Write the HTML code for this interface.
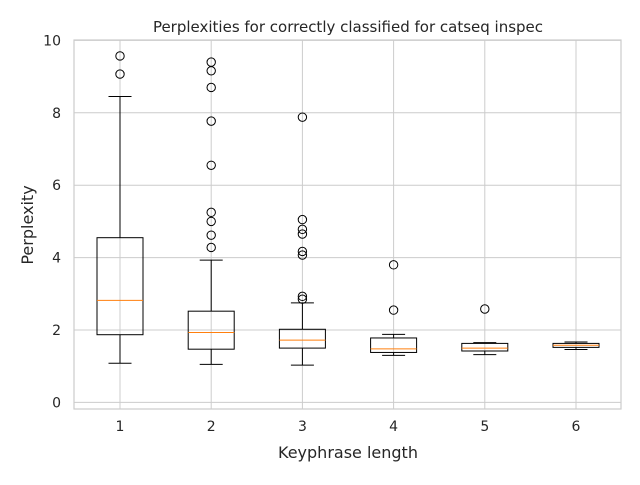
<!DOCTYPE html>
<html><head><meta charset="utf-8"><style>
body{margin:0;background:#fff;}
svg text{font-family:"DejaVu Sans","Liberation Sans",sans-serif;fill:#262626;}
</style></head><body>
<svg id="chart" width="640" height="480" viewBox="0 0 640 480">
<rect x="0" y="0" width="640" height="480" fill="#fff"/>
<text x="348" y="32" font-size="15" text-anchor="middle">Perplexities for correctly classified for catseq inspec</text>
<g id="grid"></g>
<g id="boxes"></g>
<rect x="74" y="40" width="547" height="369" fill="none" stroke="#cccccc" stroke-width="1.2"/>
<text x="348" y="458" font-size="16" text-anchor="middle">Keyphrase length</text>
<text x="33" y="225" font-size="16" text-anchor="middle" transform="rotate(-90 33 225)">Perplexity</text>
</svg>
<script>
const categories=["1","2","3","4","5","6"];
const whiskerLow=[1.08,1.05,1.03,1.30,1.32,1.46];
const q1=[1.87,1.47,1.50,1.38,1.42,1.52];
const median=[2.82,1.93,1.72,1.48,1.50,1.58];
const q3=[4.55,2.52,2.02,1.78,1.63,1.63];
const whiskerHigh=[8.45,3.93,2.75,1.88,1.65,1.67];
const outliers=[[9.07,9.57],[4.28,4.62,5.0,5.25,6.55,7.77,8.7,9.16,9.4],[2.85,2.93,4.07,4.17,4.65,4.78,5.05,7.88],[2.55,3.8],[2.58],[]];
const yTicks=[0,2,4,6,8,10];

const NS="http://www.w3.org/2000/svg";
const y=v=>402.4-v*36.2;
const x=i=>120+i*91.2;
function mk(tag,attrs,parent){const e=document.createElementNS(NS,tag);for(const k in attrs)e.setAttribute(k,attrs[k]);parent.appendChild(e);return e;}
const grid=document.getElementById('grid');
const svg=document.getElementById('chart');
yTicks.forEach(t=>{
 const l=mk('line',{x1:74,x2:621,y1:y(t),y2:y(t),stroke:'#cccccc','stroke-width':1},grid);
 
 
 const tx=mk('text',{x:61,y:y(t)+5,'font-size':14,'text-anchor':'end'},svg);
 tx.textContent=t;
 
 
});
categories.forEach((c,i)=>{
 const l=mk('line',{x1:x(i),x2:x(i),y1:40,y2:409,stroke:'#cccccc','stroke-width':1},grid);
 
 
 const tx=mk('text',{x:x(i),y:431,'font-size':14,'text-anchor':'middle'},svg);
 tx.textContent=c;
 
 
});
const boxes=document.getElementById('boxes');
categories.forEach((c,i)=>{
 const g=mk('g',{},boxes);
 
 
 const cx=x(i),hw=23,cw=11.5;
 mk('line',{x1:cx,x2:cx,y1:y(q1[i]),y2:y(whiskerLow[i]),stroke:'#000'},g);
 mk('line',{x1:cx,x2:cx,y1:y(q3[i]),y2:y(whiskerHigh[i]),stroke:'#000'},g);
 mk('line',{x1:cx-cw,x2:cx+cw,y1:y(whiskerLow[i]),y2:y(whiskerLow[i]),stroke:'#000'},g);
 mk('line',{x1:cx-cw,x2:cx+cw,y1:y(whiskerHigh[i]),y2:y(whiskerHigh[i]),stroke:'#000'},g);
 mk('rect',{x:cx-hw,y:y(q3[i]),width:2*hw,height:y(q1[i])-y(q3[i]),fill:'none',stroke:'#000'},g);
 mk('line',{x1:cx-hw,x2:cx+hw,y1:y(median[i]),y2:y(median[i]),stroke:'#ff7f0e'},g);
 outliers[i].forEach(v=>{
  const o=mk('circle',{cx:cx,cy:y(v),r:4.2,fill:'none',stroke:'#000'},g);
  
  
 });
});
</script>
</body></html>
